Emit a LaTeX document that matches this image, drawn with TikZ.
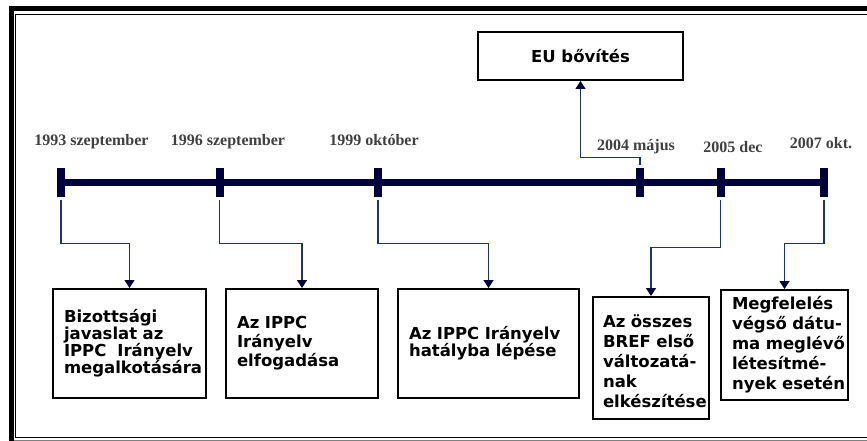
\documentclass[tikz,border=0pt]{standalone}
\usepackage{fontspec}
\setmainfont{Liberation Serif}
\newfontfamily\verdana{DejaVu Sans}
\usetikzlibrary{arrows.meta}
\definecolor{barblue}{RGB}{0,0,60}
\definecolor{linkblue}{RGB}{30,50,110}
\definecolor{dategray}{RGB}{64,64,64}
\hyphenpenalty=10000
\exhyphenpenalty=10000
\newcommand{\boxfont}[1]{\verdana\bfseries\fontsize{16.5}{#1}\selectfont}
\tikzset{
    event/.style={draw,line width=2pt,align=left,inner xsep=11pt,inner ysep=0pt},
    drop/.style={to path={-- ++(0,#1) -| (\tikztotarget)}},
    rise/.style={to path={-- ++(0,-#1) -| (\tikztotarget)}}
}
\begin{document}
\begin{tikzpicture}[x=1pt,y=-1pt]
    \useasboundingbox (0,0) rectangle (867,441);
    \draw[line width=5pt] (11,441) -- (11,8.5) -- (867,8.5);
    \draw[line width=1.2pt] (867,14.5) -- (15.5,14.5) -- (15.5,437.5) -- (867,437.5);
    \draw[gray,line width=1pt] (13.5,440.5) -- (867,440.5);
    \begin{scope}[every node/.style={fill=barblue,minimum width=8pt,minimum height=29pt,inner sep=0pt}]
    \node (t1) at (61,182.5) {};
    \node (t2) at (219.5,182.5) {};
    \node (t3) at (378,182.5) {};
    \node (t4) at (640,182.5) {};
    \node (t5) at (720.5,182.5) {};
    \node (t6) at (824,182.5) {};
    \end{scope}
    \draw[barblue,line width=7.5pt] (t1.center) -- (t6.center);
    \begin{scope}[every node/.style={anchor=base,text=dategray,inner sep=0pt,font=\bfseries\fontsize{16}{18}\selectfont}]
    \node (d1) at (91.5,146) {1993 szeptember};
    \node (d2) at (228,146) {1996 szeptember};
    \node (d3) at (374,145.5) {1999 október};
    \node (d4) at (636,150) {2004 május};
    \node (d5) at (733,153) {2005 dec};
    \node (d6) at (821,149) {2007 okt.};
    \end{scope}
    \node[event,align=center,minimum width=205pt,minimum height=48pt,font=\boxfont{19}] (eu) at (580.5,56) {EU bővítés};
    \node[event,text width=131pt,minimum height=109pt,font=\boxfont{17}] (b1) at (129.5,343.5) {Bizottsági\\javaslat~az\\IPPC~~Irányelv\\megalkotására};
    \node[event,text width=130pt,minimum height=109pt,font=\boxfont{19}] (b2) at (302,343.5) {Az~IPPC\\Irányelv\\elfogadása};
    \node[event,text width=159pt,minimum height=109pt,font=\boxfont{17}] (b3) at (488.5,343.5) {Az~IPPC~Irányelv\\hatályba~lépése};
    \node[event,inner xsep=10pt,text width=96pt,minimum height=122pt,font=\boxfont{20}] (b4) at (651,358) {\mbox{}\\Az~összes\\BREF~első\\változatá-\\nak\\elkészítése};
    \node[event,text width=105pt,minimum height=110pt,font=\boxfont{20}] (b5) at (784.5,345) {Megfelelés\\végső~dátu-\\ma~meglévő\\létesítmé-\\nyek~esetén};
    \begin{scope}[every edge/.style={draw=linkblue,line width=1.2pt,shorten <=3pt,-{Triangle[width=10pt,length=8pt,color=barblue]}}]
    \path (t1.south) edge[drop=46] (b1.north);
    \path (t2.south) edge[drop=46] (b2.north);
    \path (t3.south) edge[drop=46] (b3.north);
    \path (t5.south) edge[drop=50] (b4.north);
    \path (t6.south) edge[drop=46] (b5.north);
    \path (t4.north) edge[rise=10] (eu.south);
    \end{scope}
\end{tikzpicture}
\end{document}
